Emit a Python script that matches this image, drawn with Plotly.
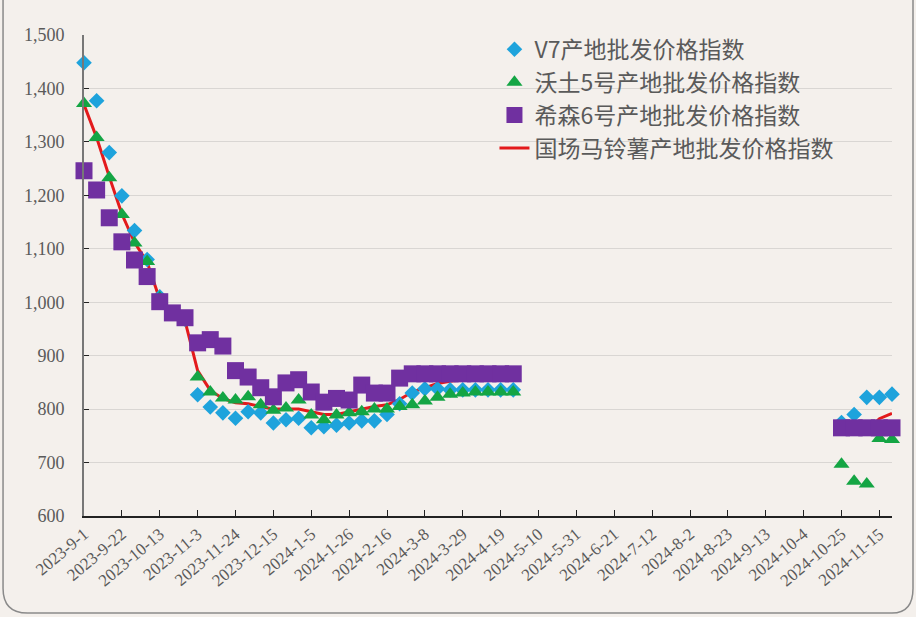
import pandas as pd
import plotly.graph_objects as go

# weekly dates: left segment 2023-9-1 .. 2024-4-26, right segment 2024-10-25 .. 2024-11-22
dates_left = [d.strftime('%Y-%m-%d') for d in pd.date_range('2023-09-01', '2024-04-26', freq='7D')]
dates_right = [d.strftime('%Y-%m-%d') for d in pd.date_range('2024-10-25', '2024-11-22', freq='7D')]

v7_left = [1448, 1377, 1280, 1199, 1134, 1080, 1010, 980, 968, 827, 804, 793, 783, 795, 793,
           774, 780, 783, 765, 767, 770, 774, 778, 778, 790, 810, 830, 838, 838, 836, 836,
           836, 836, 836, 836]
v7_right = [775, 790, 822, 822, 828]

wotu_left = [1372, 1308, 1233, 1164, 1111, 1076, 1008, 976, 963, 860, 832, 821, 817, 823, 808,
             798, 802, 817, 789, 780, 789, 793, 795, 800, 800, 805, 808, 815, 822, 828, 830,
             832, 832, 832, 832]
wotu_right = [697, 665, 660, 745, 743]

xisen_left = [1246, 1210, 1158, 1113, 1079, 1048, 1001, 980, 971, 924, 930, 918, 872, 860, 840,
              823, 849, 855, 832, 813, 820, 817, 845, 830, 830, 858, 866, 866, 866, 866, 866,
              866, 866, 866, 866]
xisen_right = [765, 765, 765, 765, 765]

total_left = [1370, 1308, 1235, 1165, 1112, 1075, 1005, 980, 965, 872, 835, 820, 812, 810, 805,
              800, 800, 800, 795, 790, 790, 795, 800, 805, 808, 818, 832, 840, 848, 852, 855,
              858, 858, 858, 858]
total_right = [765, 757, 760, 782, 792]

tick_dates = ['2023-09-01', '2023-09-22', '2023-10-13', '2023-11-03', '2023-11-24', '2023-12-15',
              '2024-01-05', '2024-01-26', '2024-02-16', '2024-03-08', '2024-03-29', '2024-04-19',
              '2024-05-10', '2024-05-31', '2024-06-21', '2024-07-12', '2024-08-02', '2024-08-23',
              '2024-09-13', '2024-10-04', '2024-10-25', '2024-11-15']
tick_text = ['2023-9-1', '2023-9-22', '2023-10-13', '2023-11-3', '2023-11-24', '2023-12-15',
             '2024-1-5', '2024-1-26', '2024-2-16', '2024-3-8', '2024-3-29', '2024-4-19',
             '2024-5-10', '2024-5-31', '2024-6-21', '2024-7-12', '2024-8-2', '2024-8-23',
             '2024-9-13', '2024-10-4', '2024-10-25', '2024-11-15']

names = ['V7产地批发价格指数', '沃土5号产地批发价格指数', '希森6号产地批发价格指数', '国场马铃薯产地批发价格指数']
colors = {'v7': '#1ea3dc', 'wotu': '#14a544', 'xisen': '#7030a0', 'total': '#e31a1c'}

bg = '#f4f0ec'
grey = '#5a5a5a'

fig = go.Figure()
fig.add_trace(go.Scatter(
    x=dates_left + [None] + dates_right, y=total_left + [None] + total_right,
    mode='lines', name=names[3], legendrank=4, connectgaps=False,
    line={'color': colors['total'], 'width': 3}, cliponaxis=False
))
fig.add_trace(go.Scatter(
    x=dates_left + dates_right, y=v7_left + v7_right, mode='markers', name=names[0], legendrank=1,
    marker={'symbol': 'diamond', 'size': 12, 'color': colors['v7']}, cliponaxis=False
))
fig.add_trace(go.Scatter(
    x=dates_left + dates_right, y=wotu_left + wotu_right, mode='markers', name=names[1], legendrank=2,
    marker={'symbol': 'triangle-up', 'size': 14, 'color': colors['wotu']}, cliponaxis=False
))
fig.add_trace(go.Scatter(
    x=dates_left + dates_right, y=xisen_left + xisen_right, mode='markers', name=names[2], legendrank=3,
    marker={'symbol': 'square', 'size': 17, 'color': colors['xisen']}, cliponaxis=False
))

fig.update_layout(
    width=916,
    height=617,
    margin={'l': 84, 'r': 24, 't': 35, 'b': 101},
    paper_bgcolor=bg,
    plot_bgcolor=bg,
    font={'family': 'Liberation Serif', 'color': grey},
    legend={
        'x': 0.508,
        'y': 1.015,
        'xanchor': 'left',
        'yanchor': 'top',
        'bgcolor': 'rgba(0,0,0,0)',
        'font': {'family': 'Noto Sans CJK SC', 'size': 23, 'color': grey},
        'tracegroupgap': 0,
        'itemwidth': 30,
    },
    shapes=[{
        'type': 'path', 'xref': 'paper', 'yref': 'paper',
        'path': 'M -0.1002,1.1 L -0.1002,-0.15 Q -0.1002,-0.2017 -0.07,-0.2017 '
                'L 1.0,-0.2017 Q 1.026,-0.2017 1.026,-0.15 L 1.026,1.1',
        'line': {'color': '#8a8a8a', 'width': 1.5},
    }],
)

fig.update_xaxes(
    type='date',
    range=['2023-09-01', '2024-11-22'],
    tickvals=tick_dates,
    ticktext=tick_text,
    tickangle=-40,
    tickfont={'size': 17, 'color': grey},
    ticks='inside',
    ticklen=6,
    tickcolor='#222222',
    showline=True,
    linecolor='#222222',
    linewidth=1.5,
    showgrid=False,
    zeroline=False,
    fixedrange=True,
    automargin=False,
)
fig.update_yaxes(
    range=[600, 1500],
    dtick=100,
    tickformat=',',
    tickfont={'size': 18, 'color': grey},
    ticks='inside',
    ticklen=5,
    tickcolor='#222222',
    ticklabelstandoff=14,
    showline=True,
    linecolor='#777777',
    linewidth=2,
    showgrid=True,
    gridcolor='#d9d6d3',
    gridwidth=1,
    zeroline=False,
    fixedrange=True,
    automargin=False,
)

# the page body has an 8px default margin; drop it so the figure fills the window
fig.write_html('out.html', config={'displayModeBar': False},
               post_script="document.body.style.margin='0';")
